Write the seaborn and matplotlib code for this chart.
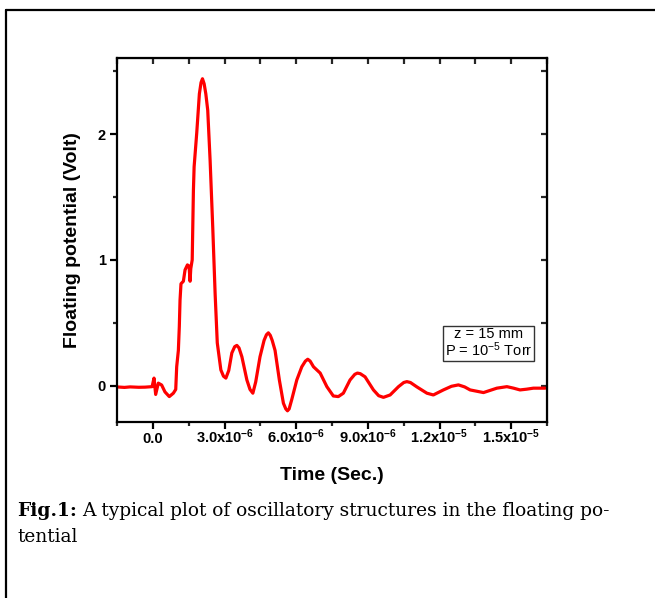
import numpy as np
import pandas as pd
import matplotlib
matplotlib.use("Agg")
import matplotlib.pyplot as plt
import seaborn as sns
from matplotlib.ticker import MultipleLocator, FixedLocator, FixedFormatter
from matplotlib.lines import Line2D

# values (time in microseconds, potential in volts)
time_us = [-1.52, -1.20, -0.96, -0.60, -0.34, -0.04, 0.04, 0.11, 0.22, 0.36,
           0.50, 0.68, 0.85, 0.95, 0.99, 1.06, 1.10, 1.13, 1.17, 1.27,
           1.34, 1.44, 1.51, 1.55, 1.58, 1.64, 1.69, 1.72, 1.83, 1.94,
           2.01, 2.07, 2.14, 2.21, 2.29, 2.39, 2.50, 2.60, 2.69, 2.84,
           2.95, 3.05, 3.17, 3.30, 3.42, 3.51, 3.60, 3.72, 3.93, 4.06,
           4.18, 4.30, 4.48, 4.65, 4.75, 4.83, 4.91, 4.99, 5.11, 5.29,
           5.46, 5.56, 5.63, 5.70, 5.81, 6.02, 6.23, 6.38, 6.48, 6.58,
           6.72, 7.00, 7.28, 7.55, 7.76, 7.97, 8.25, 8.45, 8.56, 8.68,
           8.88, 9.23, 9.45, 9.65, 9.93, 10.28, 10.50, 10.63, 10.78, 11.05,
           11.47, 11.74, 12.16, 12.50, 12.79, 13.05, 13.28, 13.84, 14.40, 14.82,
           15.10, 15.37, 15.65, 15.93, 16.42]
potential = [-0.010, -0.014, -0.010, -0.013, -0.012, -0.008, 0.060, -0.070, 0.020, 0.005,
             -0.050, -0.087, -0.060, -0.030, 0.150, 0.280, 0.470, 0.680, 0.810, 0.830,
             0.920, 0.960, 0.950, 0.830, 0.930, 1.000, 1.550, 1.740, 2.010, 2.320,
             2.410, 2.440, 2.400, 2.320, 2.190, 1.790, 1.260, 0.730, 0.340, 0.125,
             0.075, 0.060, 0.120, 0.260, 0.310, 0.320, 0.300, 0.230, 0.045, -0.030,
             -0.060, 0.030, 0.230, 0.360, 0.405, 0.420, 0.400, 0.360, 0.280, 0.045,
             -0.140, -0.185, -0.200, -0.185, -0.110, 0.045, 0.150, 0.195, 0.210, 0.195,
             0.150, 0.100, -0.008, -0.082, -0.087, -0.060, 0.045, 0.090, 0.100, 0.095,
             0.070, -0.034, -0.080, -0.093, -0.074, -0.008, 0.025, 0.032, 0.025, -0.010,
             -0.060, -0.074, -0.034, -0.005, 0.006, -0.010, -0.034, -0.055, -0.020, -0.008,
             -0.020, -0.034, -0.028, -0.020, -0.020]

xtick_vals = [0.0, 3.0e-6, 6.0e-6, 9.0e-6, 1.2e-5, 1.5e-5]
xtick_labels = ["0.0", r"3.0x10$^{\mathbf{-6}}$", r"6.0x10$^{\mathbf{-6}}$",
                r"9.0x10$^{\mathbf{-6}}$", r"1.2x10$^{\mathbf{-5}}$", r"1.5x10$^{\mathbf{-5}}$"]
ytick_vals = [0, 1, 2]
ytick_labels = ["0", "1", "2"]

df = pd.DataFrame({"t": np.array(time_us) * 1e-6, "v": potential})

sns.set_style("ticks")
plt.rcParams["font.family"] = ["Liberation Sans", "DejaVu Sans"]
plt.rcParams["text.color"] = "black"
plt.rcParams["axes.labelcolor"] = "black"
plt.rcParams["mathtext.fontset"] = "custom"
plt.rcParams["mathtext.rm"] = "Liberation Sans"
plt.rcParams["mathtext.it"] = "Liberation Sans"
plt.rcParams["mathtext.bf"] = "Liberation Sans:bold"

W, H = 655, 598
fig = plt.figure(figsize=(W / 100, H / 100), dpi=100)
ax = fig.add_axes([117 / W, 1 - 422 / H, 430 / W, 364 / H])

sns.lineplot(data=df, x="t", y="v", ax=ax, color="#ff0000", linewidth=2.3, sort=False)
ax.lines[0].set_solid_joinstyle("round")

ax.set_xlim(-1.51e-6, 1.65e-5)
ax.set_ylim(-0.289, 2.605)

ax.xaxis.set_major_locator(FixedLocator(xtick_vals))
ax.xaxis.set_major_formatter(FixedFormatter(xtick_labels))
ax.xaxis.set_minor_locator(MultipleLocator(1.5e-6))
ax.yaxis.set_major_locator(FixedLocator(ytick_vals))
ax.yaxis.set_major_formatter(FixedFormatter(ytick_labels))
ax.yaxis.set_minor_locator(MultipleLocator(0.5))

for s in ax.spines.values():
    s.set_linewidth(1.6)
    s.set_color("black")

ax.tick_params(which="major", direction="out", length=5, width=1.6, pad=3,
               labelsize=10.5, colors="black")
ax.tick_params(which="minor", direction="out", length=3, width=1.6)
ax.tick_params(axis="x", which="major", pad=10)
for lab in ax.get_xticklabels() + ax.get_yticklabels():
    lab.set_fontweight("bold")
# keep all x labels on one baseline (superscripts would push some down)
for lab in ax.get_xticklabels():
    lab.set_verticalalignment("baseline")

# mirrored ticks on top and right, pointing inward
top = ax.secondary_xaxis("top")
top.xaxis.set_major_locator(FixedLocator(xtick_vals))
top.xaxis.set_minor_locator(MultipleLocator(1.5e-6))
top.tick_params(which="both", direction="in", length=4, width=1.6, labeltop=False)
right = ax.secondary_yaxis("right")
right.yaxis.set_major_locator(FixedLocator(ytick_vals))
right.yaxis.set_minor_locator(MultipleLocator(0.5))
right.tick_params(which="both", direction="in", length=4, width=1.6, labelright=False)

ax.set_xlabel("Time (Sec.)", fontsize=14, fontweight="bold", labelpad=12, color="black")
ax.set_ylabel("Floating potential (Volt)", fontsize=14, fontweight="bold", labelpad=12,
              color="black")
ax.xaxis.set_label_coords(0.5, -(475 - 422) / 364)
ax.xaxis.label.set_verticalalignment("center")

ax.text(0.865, 0.216, "z = 15 mm\nP = 10$^{-5}$ Torr", transform=ax.transAxes,
        ha="center", va="center", fontsize=10.5, multialignment="center",
        linespacing=0.95, color="black",
        bbox=dict(boxstyle="square,pad=0.12", fc="white", ec="#333333", lw=1.0))

# page frame (left and top edge)
fig.add_artist(Line2D([6 / W, 6 / W], [0, 1 - 10 / H], transform=fig.transFigure,
                      color="black", lw=1.6))
fig.add_artist(Line2D([6 / W, 1], [1 - 10 / H, 1 - 10 / H], transform=fig.transFigure,
                      color="black", lw=1.6))

# caption
cap_font = "DejaVu Serif"
cap_size = 13.4
t1 = fig.text(17 / W, 1 - 511 / H, "Fig.1:", family=cap_font,
              fontweight="bold", fontsize=cap_size, va="center", color="black")
fig.canvas.draw()
bb = t1.get_window_extent()
fig.text(bb.x1 / W + 5 / W, 1 - 511 / H,
         "A typical plot of oscillatory structures in the floating po-",
         family=cap_font, fontsize=cap_size, va="center", color="black")
fig.text(17 / W, 1 - 537 / H, "tential", family=cap_font,
         fontsize=cap_size, va="center", color="black")

fig.savefig("out.png", dpi=100)
